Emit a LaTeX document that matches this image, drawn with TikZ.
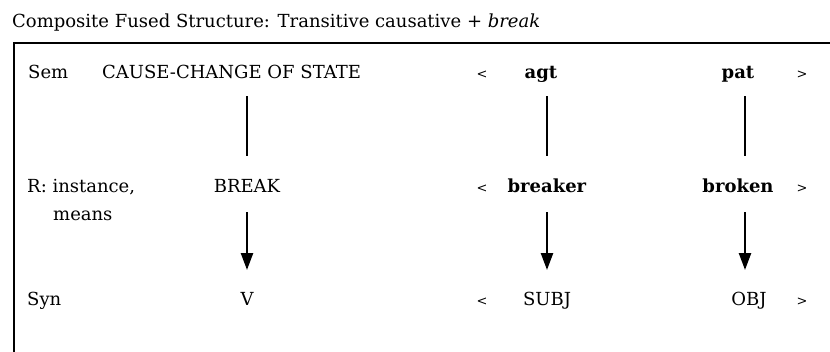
\documentclass[tikz,border=0pt]{standalone}
\usepackage{fontspec}
\setmainfont{DejaVu Serif}
\usetikzlibrary{arrows.meta}
\begin{document}
\begin{tikzpicture}[x=1pt,y=-1pt,
  txt/.style={inner sep=0pt,anchor=base,font=\fontsize{18}{21}\selectfont},
  lft/.style={txt,anchor=base west},
  brk/.style={inner sep=0pt,anchor=base,font=\fontsize{13}{15}\selectfont},
  link/.style={line width=2.4pt},
  arr/.style={line width=2.4pt,-{Triangle[width=12pt,length=17pt]}},
  frame/.style={line width=2pt}]
\useasboundingbox (0,0) rectangle (830,351);
\clip (0,0) rectangle (830,351);
\node[lft] (title) at (12,27) {Composite Fused Structure: Transitive causative + \textit{break}};
\draw[frame] (14,43) rectangle (900,420);
% Sem row
\node[lft] (semlab) at (28,78) {Sem};
\node[lft] (cause) at (102,78) {CAUSE-CHANGE OF STATE};
\node[brk] (lt1) at (482,78) {<};
\node[txt] (agt) at (541,78) {\textbf{agt}};
\node[txt] (pat) at (738,78) {\textbf{pat}};
\node[brk] (gt1) at (802,78) {>};
% R row
\node[lft] (rlab) at (27,192) {R: instance,};
\node[lft] (means) at (53,220) {means};
\node[txt] (BREAK) at (247,192) {BREAK};
\node[brk] (lt2) at (482,192) {<};
\node[txt] (breaker) at (547,192) {\textbf{breaker}};
\node[txt] (broken) at (738,192) {\textbf{broken}};
\node[brk] (gt2) at (802,192) {>};
% Syn row
\node[lft] (synlab) at (27,305) {Syn};
\node[txt] (V) at (247,305) {V};
\node[brk] (lt3) at (482,305) {<};
\node[txt] (SUBJ) at (547,305) {SUBJ};
\node[txt] (OBJ) at (749,305) {OBJ};
\node[brk] (gt3) at (802,305) {>};
\coordinate (col3) at (745,0);
% links
\draw[link,shorten <=18pt,shorten >=36pt] (cause.base -| BREAK.base) -- (BREAK.base);
\draw[link,shorten <=18pt,shorten >=36pt] (agt.base -| breaker.base) -- (breaker.base);
\draw[link,shorten <=18pt,shorten >=36pt] (col3 |- pat.base) -- (col3 |- broken.base);
\draw[arr,shorten <=20pt,shorten >=35pt] (BREAK.base) -- (V.base);
\draw[arr,shorten <=20pt,shorten >=35pt] (breaker.base) -- (breaker.base |- SUBJ.base);
\draw[arr,shorten <=20pt,shorten >=35pt] (col3 |- broken.base) -- (col3 |- OBJ.base);
\end{tikzpicture}
\end{document}
